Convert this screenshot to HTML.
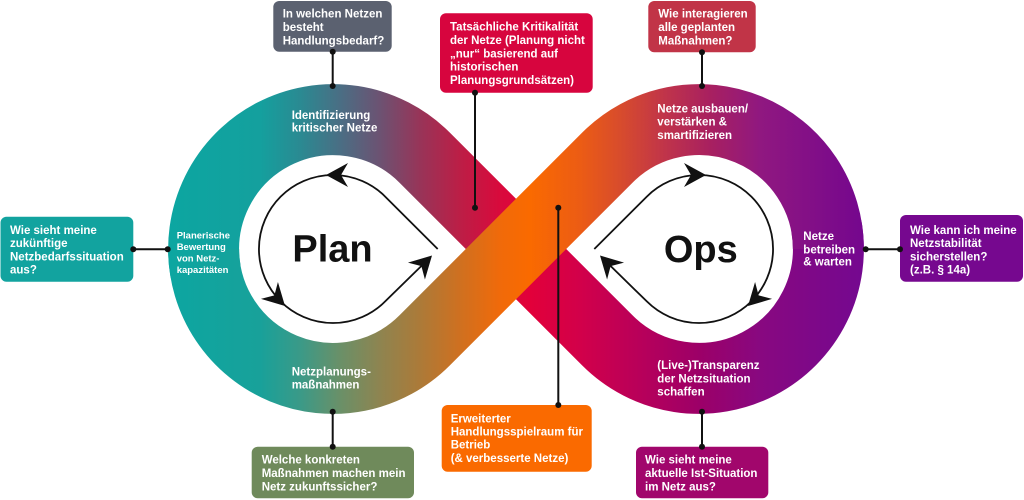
<!DOCTYPE html>
<html><head><meta charset="utf-8">
<style>
html,body{margin:0;padding:0;background:#fff;}
svg{display:block;}
text{font-family:"Liberation Sans",sans-serif;font-weight:bold;}
</style></head><body>
<svg width="1024" height="500" viewBox="0 0 1024 500" xmlns="http://www.w3.org/2000/svg">
<defs>
<linearGradient id="g1" gradientUnits="userSpaceOnUse" x1="168" y1="0" x2="865" y2="0">
<stop offset="0" stop-color="#0ca6a1"/>
<stop offset="0.132" stop-color="#14a09e"/>
<stop offset="0.189" stop-color="#2a8a92"/>
<stop offset="0.247" stop-color="#4a6e84"/>
<stop offset="0.304" stop-color="#6c5272"/>
<stop offset="0.362" stop-color="#983458"/>
<stop offset="0.419" stop-color="#bc1e46"/>
<stop offset="0.476" stop-color="#d80a3c"/>
<stop offset="0.519" stop-color="#e2003a"/>
<stop offset="0.591" stop-color="#d2004a"/>
<stop offset="0.677" stop-color="#b8005a"/>
<stop offset="0.763" stop-color="#9c0068"/>
<stop offset="0.849" stop-color="#880880"/>
<stop offset="1" stop-color="#740890"/>
</linearGradient>
<linearGradient id="g2" gradientUnits="userSpaceOnUse" x1="168" y1="0" x2="865" y2="0">
<stop offset="0" stop-color="#0ca6a1"/>
<stop offset="0.132" stop-color="#18a19a"/>
<stop offset="0.189" stop-color="#3a9a88"/>
<stop offset="0.247" stop-color="#6a9068"/>
<stop offset="0.304" stop-color="#8e8450"/>
<stop offset="0.362" stop-color="#ac7a38"/>
<stop offset="0.419" stop-color="#cf7020"/>
<stop offset="0.476" stop-color="#f06a0a"/>
<stop offset="0.519" stop-color="#fa6a00"/>
<stop offset="0.591" stop-color="#ec5c14"/>
<stop offset="0.648" stop-color="#d84c2c"/>
<stop offset="0.713" stop-color="#c0344a"/>
<stop offset="0.778" stop-color="#a82060"/>
<stop offset="0.849" stop-color="#901880"/>
<stop offset="1" stop-color="#74068e"/>
</linearGradient>
</defs>

<!-- infinity bands -->
<path d="M205.6,271.5 A129.4,129.4 0 0 1 424.5,157.5 L607.5,340.5 A129.4,129.4 0 0 0 826.4,226.5" fill="none" stroke="url(#g1)" stroke-width="71"/>
<path d="M203.6,249 A129.4,129.4 0 0 0 424.5,340.5 L607.5,157.5 A129.4,129.4 0 0 1 828.4,249" fill="none" stroke="url(#g2)" stroke-width="71"/>

<!-- cycle arrows Plan -->
<path d="M437.7,249 L385.3,196.7 A74,74 0 1 0 385.3,301.3 L428,259.5" fill="none" stroke="#111" stroke-width="1.8"/>
<path d="M0,0 L-22,-12 L-15,0 L-22,12 Z" fill="#111" transform="translate(326,175) rotate(180)"/>
<path d="M0,0 L-22,-12 L-15,0 L-22,12 Z" fill="#111" transform="translate(285,306) rotate(45)"/>
<path d="M0,0 L-22,-12 L-15,0 L-22,12 Z" fill="#111" transform="translate(432,255.5) rotate(-45)"/>

<!-- cycle arrows Ops -->
<path d="M594.3,249 L646.7,196.7 A74,74 0 1 1 646.7,301.3 L604,259.5" fill="none" stroke="#111" stroke-width="1.8"/>
<path d="M0,0 L-22,-12 L-15,0 L-22,12 Z" fill="#111" transform="translate(706,175) rotate(0)"/>
<path d="M0,0 L-22,-12 L-15,0 L-22,12 Z" fill="#111" transform="translate(748,306) rotate(135)"/>
<path d="M0,0 L-22,-12 L-15,0 L-22,12 Z" fill="#111" transform="translate(600,255.5) rotate(-135)"/>

<text x="332.5" y="261.5" font-size="38" text-anchor="middle" fill="#111">Plan</text>
<text x="700.8" y="262" font-size="38" text-anchor="middle" fill="#111">Ops</text>

<!-- band labels -->
<g fill="#fff" font-size="11.5">
<text x="291.7" y="119">Identifizierung</text>
<text x="291.7" y="131.7">kritischer Netze</text>
<text x="657.3" y="112.3">Netze ausbauen/</text>
<text x="657.3" y="125.7">verstärken &amp;</text>
<text x="657.3" y="139">smartifizieren</text>
<text x="803.3" y="240">Netze</text>
<text x="803.3" y="253.3">betreiben</text>
<text x="803.3" y="265.7">&amp; warten</text>
<text x="291.7" y="375.7">Netzplanungs-</text>
<text x="291.7" y="388.3">maßnahmen</text>
<text x="657.3" y="369">(Live-)Transparenz</text>
<text x="657.3" y="382.3">der Netzsituation</text>
<text x="657.3" y="395.7">schaffen</text>
</g>
<g fill="#fff" font-size="9.5">
<text x="176.7" y="238.5">Planerische</text>
<text x="176.7" y="250.2">Bewertung</text>
<text x="176.7" y="261.5">von Netz-</text>
<text x="176.7" y="273">kapazitäten</text>
</g>

<!-- connectors -->
<g stroke="#111" stroke-width="2">
<line x1="332.7" y1="51.7" x2="332.7" y2="86"/>
<line x1="475" y1="92.7" x2="475" y2="207.7"/>
<line x1="702" y1="52.3" x2="702" y2="86"/>
<line x1="133.3" y1="249.3" x2="167.7" y2="249.3"/>
<line x1="865.7" y1="249.3" x2="900" y2="249.3"/>
<line x1="332.7" y1="411.7" x2="332.7" y2="446.7"/>
<line x1="558.3" y1="207.7" x2="558.3" y2="405"/>
<line x1="702" y1="411.7" x2="702" y2="446.7"/>
</g>

<!-- boxes -->
<rect x="273.3" y="1" width="118.4" height="50.7" rx="6" fill="#5b6170"/>
<rect x="440" y="13.3" width="152.7" height="79.4" rx="6" fill="#d7053e"/>
<rect x="648.3" y="1" width="107.4" height="51.3" rx="6" fill="#c13447"/>
<rect x="0.5" y="216.7" width="132.8" height="65" rx="6" fill="#12a39f"/>
<rect x="900" y="215" width="123" height="66.7" rx="6" fill="#76088f"/>
<rect x="251.7" y="446.7" width="162.3" height="51.6" rx="6" fill="#6f8a5b"/>
<rect x="441.7" y="405" width="150" height="66.7" rx="6" fill="#fa6a00"/>
<rect x="636" y="446.7" width="132.3" height="51.6" rx="6" fill="#a1066c"/>

<!-- dots -->
<g fill="#111">
<circle cx="332.7" cy="51.7" r="3"/><circle cx="332.7" cy="86" r="3"/>
<circle cx="475" cy="92.7" r="3"/><circle cx="475" cy="207.7" r="3"/>
<circle cx="702" cy="52.3" r="3"/><circle cx="702" cy="86" r="3"/>
<circle cx="133.3" cy="249.3" r="3"/><circle cx="167.7" cy="249.3" r="3"/>
<circle cx="865.7" cy="249.3" r="3"/><circle cx="900" cy="249.3" r="3"/>
<circle cx="332.7" cy="411.7" r="3"/><circle cx="332.7" cy="446.7" r="3"/>
<circle cx="558.3" cy="207.7" r="3"/><circle cx="558.3" cy="405" r="3"/>
<circle cx="702" cy="411.7" r="3"/><circle cx="702" cy="446.7" r="3"/>
</g>

<!-- box texts -->
<g fill="#fff" font-size="11.5">
<text x="282.7" y="17.5">In welchen Netzen</text>
<text x="282.7" y="31">besteht</text>
<text x="282.7" y="44.3">Handlungsbedarf?</text>

<text x="450" y="30.7">Tatsächliche Kritikalität</text>
<text x="450" y="44">der Netze (Planung nicht</text>
<text x="450" y="57.3">„nur“ basierend auf</text>
<text x="450" y="70.6">historischen</text>
<text x="450" y="83.9">Planungsgrundsätzen)</text>

<text x="658.3" y="17.5">Wie interagieren</text>
<text x="658.3" y="30.8">alle geplanten</text>
<text x="658.3" y="44.5">Maßnahmen?</text>

<text x="10" y="234">Wie sieht meine</text>
<text x="10" y="247.2">zukünftige</text>
<text x="10" y="260.4">Netzbedarfssituation</text>
<text x="10" y="273.6">aus?</text>

<text x="910" y="234">Wie kann ich meine</text>
<text x="910" y="247.2">Netzstabilität</text>
<text x="910" y="260.4">sicherstellen?</text>
<text x="910" y="273.6">(z.B. § 14a)</text>

<text x="261.7" y="463.3">Welche konkreten</text>
<text x="261.7" y="477">Maßnahmen machen mein</text>
<text x="261.7" y="490.5">Netz zukunftssicher?</text>

<text x="450.7" y="422.3">Erweiterter</text>
<text x="450.7" y="435.5">Handlungsspielraum für</text>
<text x="450.7" y="448.7">Betrieb</text>
<text x="450.7" y="461.9">(&amp; verbesserte Netze)</text>

<text x="645" y="463.3">Wie sieht meine</text>
<text x="645" y="477">aktuelle Ist-Situation</text>
<text x="645" y="490.5">im Netz aus?</text>
</g>
</svg>
</body></html>
